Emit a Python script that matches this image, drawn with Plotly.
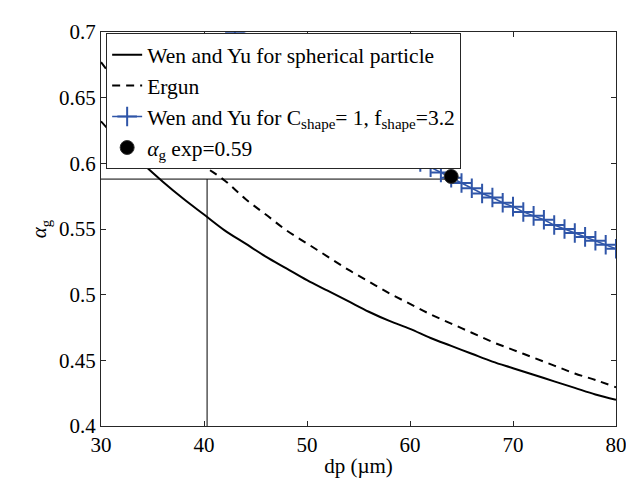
import plotly.graph_objects as go

# ---- data ----
dp_grid = [30, 32, 34, 36, 38, 40, 42, 44, 46, 48, 50, 52, 54, 56, 58, 60,
           62, 64, 66, 68, 70, 72, 74, 76, 78, 80]
alpha_wenyu_sphere = [0.632, 0.615, 0.600, 0.586, 0.573, 0.561, 0.549, 0.539,
                      0.529, 0.520, 0.511, 0.503, 0.495, 0.487, 0.480, 0.474,
                      0.467, 0.461, 0.455, 0.449, 0.444, 0.439, 0.434, 0.429,
                      0.424, 0.420]
alpha_ergun = [0.677, 0.657, 0.640, 0.625, 0.611, 0.598, 0.587, 0.573, 0.561,
               0.549, 0.539, 0.529, 0.519, 0.510, 0.501, 0.493, 0.485, 0.478,
               0.471, 0.464, 0.458, 0.452, 0.446, 0.440, 0.435, 0.4295]

dp_shape = list(range(43, 81))
alpha_wenyu_shape = [0.699, 0.692, 0.685, 0.679, 0.673, 0.667, 0.661, 0.655,
                     0.649, 0.644, 0.639, 0.634, 0.629, 0.624, 0.619, 0.614,
                     0.610, 0.606, 0.601, 0.597, 0.593, 0.589, 0.585, 0.581,
                     0.577, 0.574, 0.570, 0.567, 0.563, 0.560, 0.557, 0.553,
                     0.550, 0.547, 0.544, 0.541, 0.538, 0.535]

exp_dp = [64]
exp_alpha = [0.59]

# guide lines: alpha_exp level and dp read on spherical Wen & Yu curve
guide_h_dp = [30, 64]
guide_h_alpha = [0.588, 0.588]
guide_v_dp = [40.3, 40.3]
guide_v_alpha = [0.398, 0.588]

x_ticks = [30, 40, 50, 60, 70, 80]
y_ticks = [0.4, 0.45, 0.5, 0.55, 0.6, 0.65, 0.7]
y_tick_labels = ["0.4", "0.45", "0.5", "0.55", "0.6", "0.65", "0.7"]

FONT = "Liberation Serif"
BLUE = "#2F55A8"
AXC = "#262626"

fig = go.Figure()

fig.add_trace(go.Scatter(x=guide_h_dp, y=guide_h_alpha, mode="lines",
                         line=dict(color="black", width=1), showlegend=False,
                         hoverinfo="skip"))
fig.add_trace(go.Scatter(x=guide_v_dp, y=guide_v_alpha, mode="lines",
                         line=dict(color="black", width=1), showlegend=False,
                         hoverinfo="skip", cliponaxis=False))

fig.add_trace(go.Scatter(x=dp_grid, y=alpha_wenyu_sphere, mode="lines",
                         name="Wen and Yu for spherical particle",
                         line=dict(color="black", width=2, shape="spline")))
fig.add_trace(go.Scatter(x=dp_grid, y=alpha_ergun, mode="lines",
                         name="Ergun",
                         line=dict(color="black", width=2, dash="8px,6px",
                                   shape="spline")))
fig.add_trace(go.Scatter(x=dp_shape, y=alpha_wenyu_shape, mode="lines+markers",
                         name="Wen and Yu for C<sub>shape</sub>= 1, f<sub>shape</sub>=3.2",
                         line=dict(color=BLUE, width=1.5),
                         marker=dict(symbol="cross-thin", size=14,
                                     line=dict(color=BLUE, width=2))))
fig.add_trace(go.Scatter(x=exp_dp, y=exp_alpha, mode="markers",
                         name="<i>α</i><sub>g</sub> exp=0.59",
                         marker=dict(symbol="circle", size=14, color="black",
                                     line=dict(color="#333333", width=1))))

axis_common = dict(showline=True, linecolor=AXC, linewidth=1, mirror="allticks",
                   ticks="inside", ticklen=5, tickcolor=AXC, tickwidth=1,
                   showgrid=False, zeroline=False,
                   tickfont=dict(family=FONT, size=21, color="black"))

fig.update_layout(
    width=634, height=483,
    margin=dict(l=93, r=26, t=14, b=65),
    paper_bgcolor="white", plot_bgcolor="white",
    font=dict(family=FONT, size=21, color="black"),
    xaxis=dict(range=[30, 80], tickvals=x_ticks,
               title=dict(text="dp (µm)", font=dict(family=FONT, size=21),
                          standoff=2),
               **axis_common),
    yaxis=dict(range=[0.4, 0.7], tickvals=y_ticks, ticktext=y_tick_labels,
               title=dict(text="<i>α</i><sub>g</sub>", font=dict(family=FONT, size=21),
                          standoff=6),
               **axis_common),
    legend=dict(x=0.01, y=0.997, xanchor="left", yanchor="top",
                bgcolor="white", bordercolor=AXC, borderwidth=1,
                font=dict(family=FONT, size=21.5, color="black"),
                tracegroupgap=0, itemwidth=30),
    showlegend=True,
)

fig.write_html("out.html")
